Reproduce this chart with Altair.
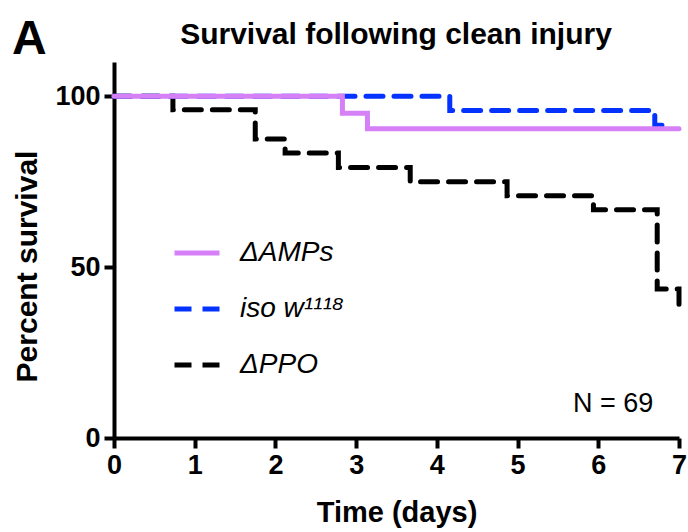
import altair as alt
import pandas as pd

# Kaplan-Meier style survival after clean injury (percent alive vs. days)
strains = ["ΔAMPs", "iso w¹¹¹⁸", "ΔPPO"]
colors = ["#D580F7", "#0433FF", "#000000"]
dashes = [[1, 0], [17, 11], [17, 11]]

amps_days = [0, 2.83, 3.14, 7.0]
amps_surv = [100, 95.0, 90.5, 90.5]

iso_days = [0, 4.16, 6.70, 6.86]
iso_surv = [100, 95.8, 91.5, 91.5]

ppo_days = [0, 0.73, 1.75, 2.12, 2.78, 3.67, 4.87, 5.94, 6.73, 7.0]
ppo_surv = [100, 96.0, 87.5, 83.4, 79.1, 75.0, 70.9, 66.8, 43.6, 37.0]

x_ticks = [0, 1, 2, 3, 4, 5, 6, 7]
y_ticks = [0, 50, 100]

rows = []
for name, days, surv in [
    (strains[0], amps_days, amps_surv),
    (strains[1], iso_days, iso_surv),
    (strains[2], ppo_days, ppo_surv),
]:
    for d, s in zip(days, surv):
        rows.append({"strain": name, "day": d, "survival": s})
df = pd.DataFrame(rows)

FONT = "Liberation Sans"

legend = alt.Legend(
    title=None,
    orient="none",
    legendX=58,
    legendY=166,
    symbolType="stroke",
    symbolSize=2025,
    symbolStrokeWidth=5,
    labelFont=FONT,
    labelFontSize=28,
    labelFontStyle="italic",
    labelColor="black",
    labelOffset=18,
    rowPadding=17,
    padding=0,
)

x_axis = alt.Axis(
    values=x_ticks, format="d", title="Time (days)",
    labelFont=FONT, labelFontSize=27, labelFontWeight="bold", labelColor="black",
    titleFont=FONT, titleFontSize=29, titleFontWeight="bold", titleColor="black",
    domainWidth=4, domainColor="black", tickWidth=4, tickColor="black",
    tickSize=10, labelPadding=4, titlePadding=20, grid=False, labelFlush=False,
)
y_axis = alt.Axis(
    values=y_ticks, format="d", title="Percent survival",
    labelFont=FONT, labelFontSize=27, labelFontWeight="bold", labelColor="black",
    titleFont=FONT, titleFontSize=30, titleFontWeight="bold", titleColor="black",
    domainWidth=4, domainColor="black", tickWidth=4, tickColor="black",
    tickSize=10, labelPadding=4, titlePadding=12, titleY=204, grid=False,
)

base = alt.Chart(df).mark_line(
    interpolate="step-after", strokeWidth=5, strokeCap="round", strokeJoin="miter"
).encode(
    x=alt.X("day:Q", scale=alt.Scale(domain=[0, 7], nice=False), axis=x_axis),
    y=alt.Y("survival:Q", scale=alt.Scale(domain=[0, 110], nice=False), axis=y_axis),
    color=alt.Color("strain:N", scale=alt.Scale(domain=strains, range=colors), legend=legend),
    strokeDash=alt.StrokeDash("strain:N", scale=alt.Scale(domain=strains, range=dashes), legend=legend),
)

# draw order: ΔPPO underneath, ΔAMPs on top
layers = [base.transform_filter(alt.datum.strain == s) for s in [strains[2], strains[1], strains[0]]]

title_text = alt.Chart(pd.DataFrame({"t": ["Survival following clean injury"]})).mark_text(
    font=FONT, fontSize=30, fontWeight="bold", align="center", baseline="alphabetic", color="black"
).encode(text="t:N", x=alt.value(282), y=alt.value(-18))

panel_label = alt.Chart(pd.DataFrame({"t": ["A"]})).mark_text(
    font=FONT, fontSize=48, fontWeight="bold", align="left", baseline="alphabetic", color="black"
).encode(text="t:N", x=alt.value(-102), y=alt.value(-8))

n_label = alt.Chart(pd.DataFrame({"t": ["N = 69"]})).mark_text(
    font=FONT, fontSize=27, align="left", baseline="alphabetic", color="black"
).encode(text="t:N", x=alt.value(459), y=alt.value(350))

chart = alt.layer(*layers, title_text, panel_label, n_label).properties(
    width=565,
    height=376,
    autosize=alt.AutoSizeParams(type="none"),
    padding={"left": 114, "top": 62, "right": 9, "bottom": 94},
).configure_view(stroke=None)

chart.save("out.html", embed_options={"renderer": "svg", "actions": False})
